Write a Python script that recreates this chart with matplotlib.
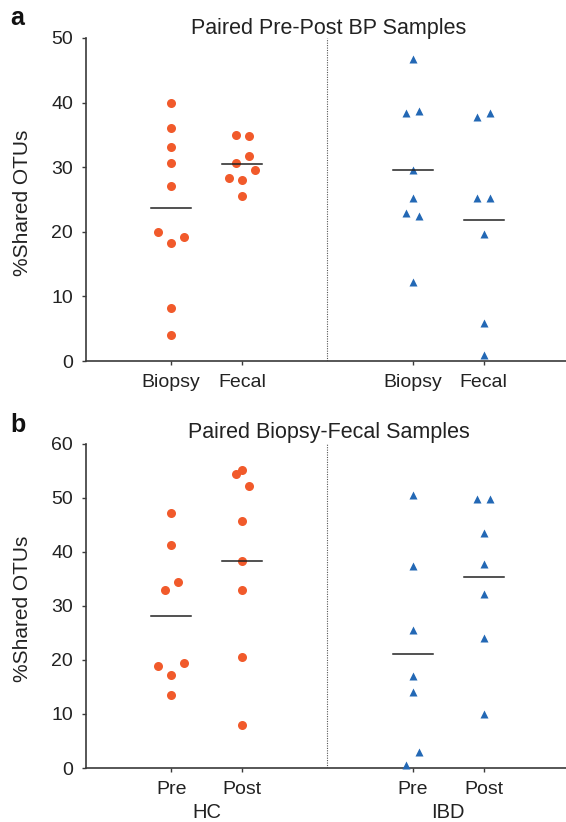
import matplotlib
matplotlib.use("Agg")
import matplotlib.pyplot as plt
import matplotlib.transforms as mtransforms
import numpy as np

plt.rcParams["font.family"] = ["Liberation Sans", "DejaVu Sans"]

# Panel a: paired pre-post BP samples, % shared OTUs
a_labels = ["Biopsy", "Fecal", "Biopsy", "Fecal"]
a_hc_biopsy = [40.0, 36.0, 33.2, 30.6, 27.1, 19.9, 19.2, 18.3, 8.2, 4.1]
a_hc_fecal = [35.0, 34.9, 31.8, 30.7, 29.5, 28.4, 28.0, 25.6]
a_ibd_biopsy = [46.8, 38.4, 38.7, 29.5, 25.3, 22.9, 22.4, 12.3]
a_ibd_fecal = [37.8, 38.4, 25.3, 25.3, 19.7, 5.9, 0.9]

# Panel b: paired biopsy-fecal samples
b_labels = ["Pre", "Post", "Pre", "Post"]
b_groups = ["HC", "IBD"]
b_hc_pre = [47.3, 41.3, 34.5, 32.9, 19.5, 18.9, 17.2, 13.6]
b_hc_post = [55.1, 54.5, 52.2, 45.7, 38.3, 33.0, 20.6, 8.0]
b_ibd_pre = [50.5, 37.5, 25.6, 17.0, 14.1, 2.9, 0.6]
b_ibd_post = [49.9, 49.9, 43.6, 37.7, 32.3, 24.1, 10.0]

# swarm offsets (in steps) so overlapping points sit side by side
a_jit = [
    [0, 0, 0, 0, 0, -2, 2, 0, 0, 0],
    [-1, 1, 1, -1, 2, -2, 0, 0],
    [0, -1, 1, 0, 0, -1, 1, 0],
    [-1, 1, -1, 1, 0, 0, 0],
]
b_jit = [
    [0, 0, 1, -1, 2, -2, 0, 0],
    [0, -1, 1, 0, 0, 0, 0, 0],
    [0, 0, 0, 0, 0, 1, -1],
    [-1, 1, 0, 0, 0, 0, 0],
]

ORANGE = "#f15a2b"
BLUE = "#2368b5"
AXC = "#3a3a3a"
TXT = "#222222"
POS = np.array([0, 1, 3.4, 4.4])
STEP = 0.092


def draw_panel(ax, series, jit, labels, ymax, title, letter, title_base, letter_base):
    styles = [("o", ORANGE, 6.5), ("o", ORANGE, 6.5), ("^", BLUE, 6.3), ("^", BLUE, 6.3)]
    for i, (vals, jj) in enumerate(zip(series, jit)):
        m, c, ms = styles[i]
        x = POS[i] + np.array(jj) * STEP
        ax.plot(x, vals, m, color=c, ms=ms, mec="none", zorder=3, clip_on=False)
        mean = np.mean(vals)
        ax.plot([POS[i] - 0.28, POS[i] + 0.28], [mean, mean], color=TXT, lw=1.1, zorder=4)

    ax.axvline(2.2, color="#555555", lw=0.8, ls=(0, (1, 1.2)), zorder=1)
    ax.set_xlim(-1.2, 5.56)
    ax.set_ylim(0, ymax)
    ax.set_xticks(POS)
    ax.set_xticklabels(labels)
    ax.set_yticks(np.arange(0, ymax + 1, 10))
    ax.set_ylabel("%Shared OTUs", fontsize=15, color=TXT)
    ax.yaxis.set_label_coords(-0.113, 0.49)
    for s in ["top", "right"]:
        ax.spines[s].set_visible(False)
    for s in ["left", "bottom"]:
        ax.spines[s].set_color(AXC)
        ax.spines[s].set_linewidth(1.2)
    ax.tick_params(colors=AXC, labelcolor=TXT, labelsize=14, length=3.2, width=1.0)
    ax.tick_params(axis="x", pad=6)
    ax.tick_params(axis="y", pad=6)
    fig = ax.figure
    fig.text(329 / 566, 1 - title_base / 822, title, ha="center", va="baseline",
             fontsize=15.5, color=TXT)
    fig.text(10 / 566, 1 - letter_base / 822, letter, ha="left", va="baseline", fontsize=18,
             fontweight="bold", color="#111111")


fig = plt.figure(figsize=(5.66, 8.22), dpi=100)
ax_a = fig.add_axes([86 / 566, 1 - 361 / 822, 1 - 86 / 566, 323 / 822])
ax_b = fig.add_axes([86 / 566, 1 - 768 / 822, 1 - 86 / 566, 324 / 822])

draw_panel(ax_a, [a_hc_biopsy, a_hc_fecal, a_ibd_biopsy, a_ibd_fecal], a_jit, a_labels, 50,
           "Paired Pre-Post BP Samples", "a", 34, 25)
draw_panel(ax_b, [b_hc_pre, b_hc_post, b_ibd_pre, b_ibd_post], b_jit, b_labels, 60,
           "Paired Biopsy-Fecal Samples", "b", 438, 432)

trans = mtransforms.blended_transform_factory(ax_b.transData, ax_b.transAxes)
for k, g in enumerate(b_groups):
    xc = (POS[2 * k] + POS[2 * k + 1]) / 2
    ax_b.text(xc, -0.137, g, transform=trans, ha="center", va="center", fontsize=14.5, color=TXT)

fig.savefig("out.png", dpi=100)
